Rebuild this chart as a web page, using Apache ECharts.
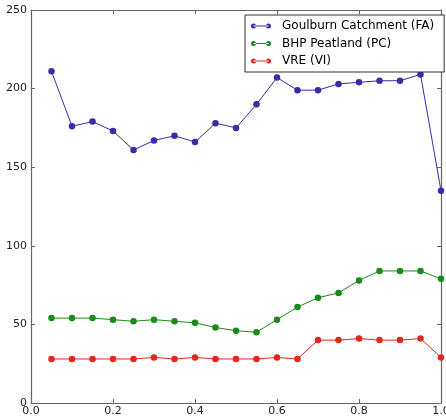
<!DOCTYPE html>
<html><head><meta charset="utf-8">
<script src="https://cdn.jsdelivr.net/npm/echarts@6/dist/echarts.min.js"></script>
<style>html,body{margin:0;padding:0;background:#fff}#c{width:446px;height:419px}</style>
</head><body><div id="c"></div>
<script>
const xValues = [0.05,0.10,0.15,0.20,0.25,0.30,0.35,0.40,0.45,0.50,0.55,0.60,0.65,0.70,0.75,0.80,0.85,0.90,0.95,1.00];
const goulburn = [211,176,179,173,161,167,170,166,178,175,190,207,199,199,203,204,205,205,209,135];
const bhp = [54,54,54,53,52,53,52,51,48,46,45,53,61,67,70,78,84,84,84,79];
const vre = [28,28,28,28,28,29,28,29,28,28,28,29,28,40,40,41,40,40,41,29];
const seriesNames = ['Goulburn Catchment (FA)','BHP Peatland (PC)','VRE (VI)'];
const colors = ['#3a2ba6','#1a8a1a','#dd2a1e'];

const pair = arr => arr.map((v,i)=>[xValues[i], v]);
const iconPath = 'path://M0,3a3,3 0 1,0 6,0a3,3 0 1,0 -6,0Z M3,2.5L21,2.5L21,3.5L3,3.5Z M18,3a3,3 0 1,0 6,0a3,3 0 1,0 -6,0Z';
const font = 'DejaVu Sans';
const axisLineStyle = {color:'#666', width:1.2};
const tickStyle = {color:'#666', width:1};

const chart = echarts.init(document.getElementById('c'), null, {renderer:'canvas'});
chart.setOption({
  animation:false,
  backgroundColor:'#fff',
  grid:{left:31, top:10, width:410, height:393, show:false, outerBoundsMode:'none', containLabel:false},
  legend:{
    orient:'vertical', left:245, top:15,
    backgroundColor:'#fff', borderColor:'#333', borderWidth:1,
    padding:[4,10,4,6], itemGap:3.5, itemWidth:20, itemHeight:7,
    textStyle:{fontFamily:font, fontSize:12, color:'#000', lineHeight:14, padding:[0,0,0,6]},
    data: seriesNames.map((n,i)=>({name:n, icon:iconPath}))
  },
  xAxis:[{
    type:'value', min:0, max:1, interval:0.2,
    axisLine:{show:true, onZero:false, lineStyle:axisLineStyle},
    axisTick:{show:true, inside:true, length:4, lineStyle:tickStyle},
    axisLabel:{fontFamily:font, fontSize:11, color:'#222', margin:3, formatter:v=>v.toFixed(1)},
    splitLine:{show:false}
  },{
    type:'value', position:'top', min:0, max:1, interval:0.2,
    axisLine:{show:true, onZero:false, lineStyle:axisLineStyle},
    axisTick:{show:true, inside:true, length:4, lineStyle:tickStyle},
    axisLabel:{show:false}, splitLine:{show:false}
  }],
  yAxis:[{
    type:'value', min:0, max:250, interval:50,
    axisLine:{show:true, onZero:false, lineStyle:axisLineStyle},
    axisTick:{show:true, inside:true, length:4, lineStyle:tickStyle},
    axisLabel:{fontFamily:font, fontSize:11, color:'#222', margin:4},
    splitLine:{show:false}
  },{
    type:'value', position:'right', min:0, max:250, interval:50,
    axisLine:{show:true, onZero:false, lineStyle:axisLineStyle},
    axisTick:{show:true, inside:true, length:4, lineStyle:tickStyle},
    axisLabel:{show:false}, splitLine:{show:false}
  }],
  series:[goulburn,bhp,vre].map((arr,i)=>({
    name:seriesNames[i], type:'line', data:pair(arr),
    symbol:'circle', symbolSize:6.5,
    lineStyle:{color:colors[i], width:1},
    itemStyle:{color:colors[i]},
    z: 3 - i
  }))
});
</script></body></html>
